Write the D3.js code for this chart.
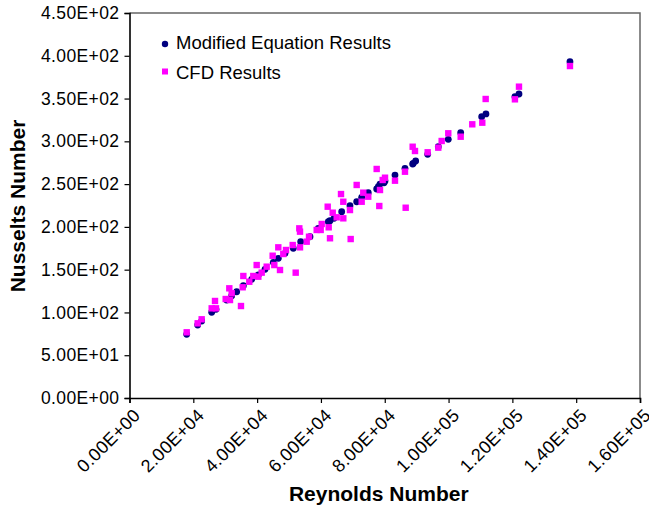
<!DOCTYPE html>
<html>
<head>
<meta charset="utf-8">
<script src="https://cdn.jsdelivr.net/npm/d3@7"></script>
<style>
  html, body { margin: 0; padding: 0; background: #fff; }
  svg { display: block; font-family: "Liberation Sans", Arial, sans-serif; }
</style>
</head>
<body>
<svg id="chart" width="649" height="511"></svg>
<script>
// Nusselt number vs Reynolds number: correlation results and CFD results
const reynoldsModel = [17930, 21370, 22620, 25760, 27110, 30460, 32030, 33590, 35680, 38290,
  40380, 42470, 45070, 46640, 48730, 51340, 53650, 56570, 59170, 62320, 62840, 64090, 66500,
  69100, 71200, 72770, 74830, 77470, 77990, 78510, 79770, 80080, 83210, 86340, 88750, 88950,
  89690, 93450, 96780, 99910, 103800, 110380, 111720, 120800, 122070, 138050];
const nusseltModel = [74.4, 85.3, 90.0, 100.2, 103.7, 114.5, 119.6, 124.2, 131.3, 138.7,
  143.8, 150.4, 158.6, 163.3, 169.1, 175.0, 182.7, 188.5, 198.3, 206.1, 207.2, 210.0, 217.8,
  224.8, 229.4, 234.6, 240.0, 244.3, 247.0, 250.1, 251.6, 253.6, 260.6, 268.5, 273.5, 274.3,
  277.0, 284.8, 293.7, 302.4, 310.1, 328.8, 332.0, 352.2, 355.3, 393.1];

const reynoldsCFD = [17930, 21370, 22620, 25760, 26800, 27110, 31280, 30150, 31500, 32030,
  34940, 35680, 35470, 37540, 38800, 39860, 40380, 41430, 43000, 44870, 45390, 46640, 47170,
  48200, 49050, 51150, 52090, 53220, 53440, 53440, 55540, 56260, 58670, 59920, 60240, 62120,
  62430, 62840, 63690, 64940, 66290, 67010, 67010, 69100, 69320, 71200, 72770, 73270, 74830,
  77470, 78290, 78510, 79350, 80080, 83210, 86340, 86560, 88750, 89480, 93450, 96780, 97840,
  99910, 103800, 107430, 110570, 111630, 120800, 122070, 138050];
const nusseltCFD = [76.8, 87.3, 92.0, 104.8, 113.4, 104.8, 128.2, 115.7, 114.5, 122.4,
  107.5, 142.6, 129.4, 135.9, 142.6, 155.4, 141.8, 146.5, 153.5, 166.3, 155.4, 176.1, 149.6,
  168.3, 173.0, 178.8, 146.5, 198.3, 194.4, 176.1, 182.7, 188.5, 196.4, 196.4, 203.4, 223.6,
  199.5, 186.7, 216.6, 211.2, 238.4, 229.4, 210.0, 219.7, 185.8, 249.0, 229.4, 240.0, 235.3,
  267.7, 224.4, 243.1, 254.8, 257.5, 254.0, 264.5, 222.4, 293.7, 288.7, 287.2, 292.6, 300.4,
  309.4, 305.4, 319.9, 321.8, 349.5, 349.1, 363.9, 388.0];

const xTicks = [0, 20000, 40000, 60000, 80000, 100000, 120000, 140000, 160000];
const yTicks = [0, 50, 100, 150, 200, 250, 300, 350, 400, 450];
const legendLabels = ["Modified Equation Results", "CFD Results"];

// Excel-style scientific notation, e.g. 2.00E+04
function sci(v) {
  if (v === 0) return "0.00E+00";
  const e = Math.floor(Math.log10(Math.abs(v)));
  const m = v / Math.pow(10, e);
  return m.toFixed(2) + "E" + (e < 0 ? "-" : "+") + String(Math.abs(e)).padStart(2, "0");
}

const svg = d3.select("#chart");
const plotLeft = 129.5, plotRight = 640, plotTop = 13, plotBottom = 398;

const x = d3.scaleLinear().domain([0, 160000]).range([plotLeft, plotRight]);
const y = d3.scaleLinear().domain([0, 450]).range([plotBottom, plotTop]);

// plot area border (top and right)
svg.append("path")
  .attr("d", `M${plotLeft},${plotTop}H${plotRight}V${plotBottom}`)
  .attr("fill", "none").attr("stroke", "#666").attr("stroke-width", 1.5);

// y axis
const yAxis = svg.append("g").attr("transform", `translate(${plotLeft},0)`)
  .call(d3.axisLeft(y).tickValues(yTicks).tickFormat(sci).tickSize(5).tickPadding(5));
yAxis.select(".domain").attr("stroke", "#000").attr("stroke-width", 1.6);
yAxis.selectAll(".tick line").attr("stroke", "#000").attr("stroke-width", 1.2);
yAxis.selectAll("text").attr("font-size", 17.5).attr("fill", "#000")
  .attr("font-family", "Liberation Sans, Arial, sans-serif").attr("letter-spacing", 0.4);

// x axis, labels slanted at 45 degrees
const xAxis = svg.append("g").attr("transform", `translate(0,${plotBottom})`)
  .call(d3.axisBottom(x).tickValues(xTicks).tickFormat(sci).tickSize(5));
xAxis.select(".domain").attr("stroke", "#000").attr("stroke-width", 1.6);
xAxis.selectAll(".tick line").attr("stroke", "#000").attr("stroke-width", 1.2);
xAxis.selectAll("text")
  .attr("font-size", 18).attr("fill", "#000")
  .attr("font-family", "Liberation Sans, Arial, sans-serif").attr("letter-spacing", 0.4)
  .attr("text-anchor", "end")
  .attr("y", 0).attr("dy", "0.35em")
  .attr("transform", "translate(7,14) rotate(-45)");

// axis titles
svg.append("text")
  .attr("x", (plotLeft + plotRight) / 2 - 6).attr("y", 501)
  .attr("text-anchor", "middle").attr("font-weight", "bold").attr("font-size", 21)
  .text("Reynolds Number");
svg.append("text")
  .attr("transform", "translate(25,206) rotate(-90)")
  .attr("text-anchor", "middle").attr("font-weight", "bold").attr("font-size", 21)
  .text("Nusselts Number");

// series
const modelPts = reynoldsModel.map((r, i) => [r, nusseltModel[i]]);
const cfdPts = reynoldsCFD.map((r, i) => [r, nusseltCFD[i]]);

svg.append("g").selectAll("circle").data(modelPts).join("circle")
  .attr("cx", d => x(d[0])).attr("cy", d => y(d[1])).attr("r", 3.4)
  .attr("fill", "#000080");

const sq = 6.4;
svg.append("g").selectAll("rect").data(cfdPts).join("rect")
  .attr("x", d => x(d[0]) - sq / 2).attr("y", d => y(d[1]) - sq / 2)
  .attr("width", sq).attr("height", sq)
  .attr("fill", "#FF00FF");

// legend
const lg = svg.append("g");
lg.append("circle").attr("cx", 165).attr("cy", 44).attr("r", 3.2).attr("fill", "#000080");
lg.append("rect").attr("x", 162).attr("y", 68.5).attr("width", 6).attr("height", 6).attr("fill", "#FF00FF");
lg.selectAll("text").data(legendLabels).join("text")
  .attr("x", 176).attr("y", (d, i) => 49 + i * 29.5)
  .attr("font-size", 18.5).attr("fill", "#000")
  .text(d => d);
</script>
</body>
</html>
